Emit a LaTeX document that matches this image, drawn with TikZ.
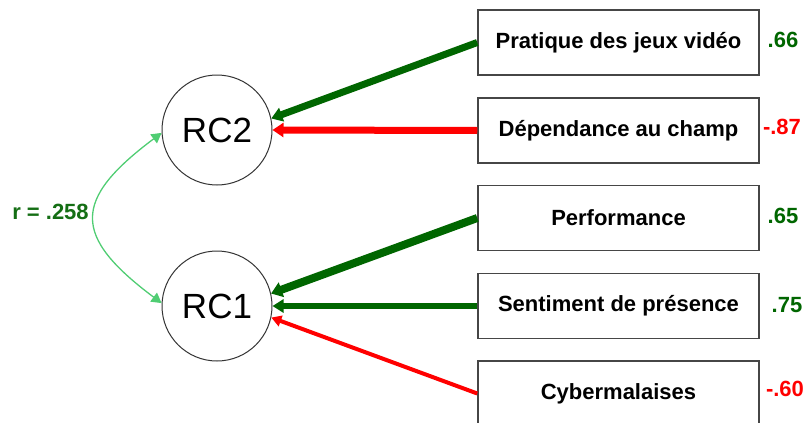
\documentclass[tikz,border=0pt]{standalone}
\usepackage{fontspec}
\setmainfont{Liberation Sans}
\usetikzlibrary{arrows.meta}
\definecolor{dkgreen}{RGB}{0,102,0}
\definecolor{txtgreen}{RGB}{20,110,20}
\definecolor{ltgreen}{RGB}{80,205,115}
\definecolor{boxgray}{RGB}{70,70,70}
\tikzset{
  factor/.style={circle,draw=black!80,line width=1pt,minimum size=110pt,inner sep=0pt,font=\fontsize{35}{40}\selectfont},
  itembox/.style={rectangle,draw=boxgray,line width=1.5pt,minimum width=281pt,minimum height=65pt,inner sep=0pt,font=\bfseries\fontsize{22}{26}\selectfont},
  val/.style={font=\bfseries\fontsize{22}{26}\selectfont,inner sep=0pt},
  load/.style={-{Triangle[length=11pt,width=#1]}},
}
\begin{document}
\begin{tikzpicture}[x=1pt,y=-1pt]
\useasboundingbox (0,0) rectangle (809,423);
\node[factor] (RC2) at (217,130) {RC2};
\node[factor] (RC1) at (217,306) {RC1};
\node[itembox] (b1) at (618.5,42.5) {Pratique des jeux vidéo};
\node[itembox] (b2) at (618.5,130.5) {Dépendance au champ};
\node[itembox] (b3) at (618.5,218) {Performance};
\node[itembox] (b4) at (618.5,306) {Sentiment de présence};
\node[itembox] (b5) at (618.5,393.5) {Cybermalaises};
\node[val,text=dkgreen] (v1) at (783,40) {.66};
\node[val,text=red] (v2) at (782,127) {-.87};
\node[val,text=dkgreen] (v3) at (783,216) {.65};
\node[val,text=dkgreen] (v4) at (787,305) {.75};
\node[val,text=red] (v5) at (785,389) {-.60};
\draw[dkgreen,line width=7pt,load=14pt] (b1.west) -- (RC2.12);
\draw[red,line width=7pt,load=14pt] (b2.west) -- (RC2.0);
\draw[dkgreen,line width=8pt,load=15pt] (b3.west) -- (RC1.13);
\draw[dkgreen,line width=6pt,load=13pt] (b4.west) -- (RC1.0);
\draw[red,line width=4pt,{}-{Triangle[length=10pt,width=11pt]}] (b5.west) -- (RC1.-12);
\draw[ltgreen,line width=1.3pt,{Triangle[length=10pt,width=11pt]}-{Triangle[length=10pt,width=11pt]}]
  (RC2.183) .. controls (72,200) and (72,236) .. (RC1.177);
\node[font=\bfseries\fontsize{22}{26}\selectfont,text=txtgreen,inner sep=0pt] (r) at (50.5,212) {r = .258};
\end{tikzpicture}
\end{document}
